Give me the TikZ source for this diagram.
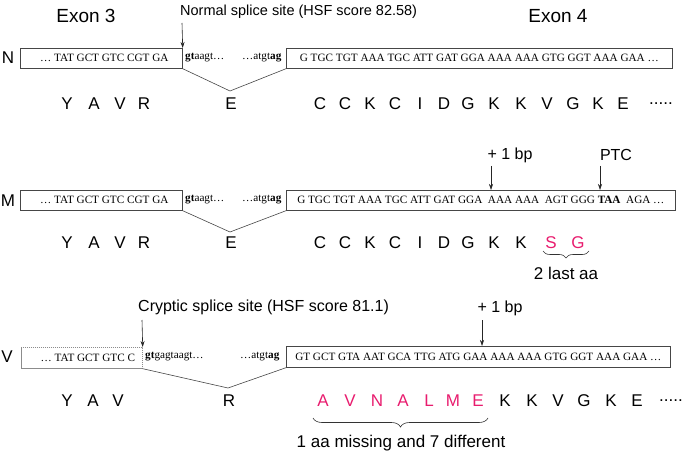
\documentclass[tikz,border=0pt]{standalone}
\usepackage{fontspec}
\setmainfont{Liberation Sans}
\newfontfamily\seqf{Liberation Serif}
\usetikzlibrary{arrows.meta,decorations.pathreplacing}
\definecolor{aapink}{RGB}{232,28,110}
\definecolor{boxline}{RGB}{70,70,70}
\begin{document}
\begin{tikzpicture}[x=1pt,y=-1pt,
  seqbox/.style={draw=boxline, line width=0.7pt, inner xsep=0pt, inner ysep=0pt, minimum height=20pt, font=\seqf\fontsize{11.2}{13}\selectfont, anchor=north west},
  dotbox/.style={seqbox, draw=black!45, dash pattern=on 1.2pt off 0.8pt},
  gap/.style={inner sep=0pt, font=\seqf\fontsize{11.2}{13}\selectfont, anchor=west},
  aa/.style={inner sep=0pt, font=\fontsize{17}{20}\selectfont},
  aap/.style={aa, text=aapink},
  lab/.style={inner sep=0pt, font=\fontsize{16}{19}\selectfont},
  big/.style={inner sep=0pt, font=\fontsize{19}{22}\selectfont},
  arr/.style={-{Stealth[length=6pt,width=4pt]}, line width=0.6pt, black!85},
  vline/.style={draw=boxline, line width=0.6pt},
  brc/.style={decorate, decoration={brace, mirror, amplitude=7pt}, line width=0.6pt, black!80},
]
\useasboundingbox (0,0) rectangle (685,454);

% ---------------- Row N ----------------
\node[big] (ex3) at (86,16) {Exon 3};
\node[big] (ex4) at (558,16) {Exon 4};
\node[lab, anchor=west, font=\fontsize{14.5}{17}\selectfont] (nss) at (180,12) {Normal splice site (HSF score 82.58)};
\node[aa] (rN) at (8,58) {N};
\node[seqbox, minimum width=162pt] (n1) at (20,48) {\hspace*{6pt}… TAT GCT GTC CGT GA};
\node[seqbox, minimum width=386pt] (n2) at (286,48) {G TGC TGT AAA TGC ATT GAT GGA AAA AAA GTG GGT AAA GAA …};
\node[gap] (ng1) at (185,58) {\textbf{gt}aagt…};
\node[gap] (ng2) at (242,58) {…atgt\textbf{ag}};
\coordinate (nv) at (230,91);
\draw[vline] (n1.south east) -- (nv) -- (n2.south west);
\coordinate (na) at (182,23);
\draw[arr] (na) -- (n1.north east);
\foreach \x/\l [count=\i] in {67/Y,94/A,120/V,144/R,231/E,320/C,345/C,370/K,395/C,420/I,444/D,468/G,494/K,521/K,547/V,573/G,598/K,623/E}
  {\node[aa] (naa\i) at (\x,104) {\l};}
\node[aa] (ndots) at (661,104) {.....};

% ---------------- Row M ----------------
\node[lab] (mbp) at (510,155) {+ 1 bp};
\node[lab] (mptc) at (616,155) {PTC};
\node[aa] (rM) at (8,201) {M};
\node[seqbox, minimum width=162pt] (m1) at (20,190) {\hspace*{6pt}… TAT GCT GTC CGT GA};
\node[seqbox, minimum width=389pt] (m2) at (286,190) {G TGC TGT AAA TGC ATT GAT GGA\enspace AAA AAA\enspace AGT GGG \textbf{TAA}\enspace AGA …};
\node[gap] (mg1) at (185,200) {\textbf{gt}aagt…};
\node[gap] (mg2) at (242,200) {…atgt\textbf{ag}};
\coordinate (mv) at (230,232);
\draw[vline] (m1.south east) -- (mv) -- (m2.south west);
\coordinate (mb) at (491,166);
\draw[arr] (mb) -- (mb |- m2.north);
\coordinate (mp) at (600,166);
\draw[arr] (mp) -- (mp |- m2.north);
\foreach \x/\l [count=\i] in {67/Y,94/A,120/V,144/R,231/E,320/C,345/C,370/K,395/C,420/I,444/D,468/G,494/K,521/K}
  {\node[aa] (maa\i) at (\x,243) {\l};}
\node[aap] (ms) at (551,243) {S};
\node[aap] (mg) at (578,243) {G};
\coordinate (mbl) at (543,251);
\coordinate (mbr) at (589,251);
\draw[brc] (mbl) -- (mbr);
\node[aa] (m2l) at (566,273) {2 last aa};

% ---------------- Row V ----------------
\node[lab, anchor=west] (vcs) at (138,307) {Cryptic splice site (HSF score 81.1)};
\node[lab] (vbp) at (500,308) {+ 1 bp};
\node[aa] (rV) at (7,357) {V};
\node[dotbox, minimum width=121pt, minimum height=21pt] (v1) at (21,347) {\hspace*{12pt}… TAT GCT GTC C};
\node[seqbox, minimum width=384pt, minimum height=21pt] (v2) at (286,346) {GT GCT GTA AAT GCA TTG ATG GAA AAA AAA GTG GGT AAA GAA …};
\node[gap] (vg1) at (145,357) {\textbf{gt}gagtaagt…};
\node[gap] (vg2) at (240,357) {…atgt\textbf{ag}};
\coordinate (vv) at (228,388);
\draw[vline] (v1.south east) -- (vv) -- (v2.south west);
\coordinate (vca) at (142,320);
\draw[arr] (vca) -- (v1.north east);
\coordinate (vb) at (482,320);
\draw[arr] (vb) -- (vb |- v2.north);
\foreach \x/\l [count=\i] in {67/Y,93/A,118/V,229/R,505/K,532/K,558/V,584/G,611/K,637/E}
  {\node[aa] (vaa\i) at (\x,401) {\l};}
\foreach \x/\l [count=\i] in {323/A,350/V,377/N,403/A,429/L,453/M,478/E}
  {\node[aap] (vpa\i) at (\x,401) {\l};}
\node[aa] (vdots) at (671,401) {.....};
\coordinate (vbl) at (313,418);
\coordinate (vbr) at (488,418);
\draw[brc, decoration={brace, mirror, amplitude=9pt}] (vbl) -- (vbr);
\node[aa] (vtxt) at (401,443) {1 aa missing and 7 different};
\end{tikzpicture}
\end{document}
